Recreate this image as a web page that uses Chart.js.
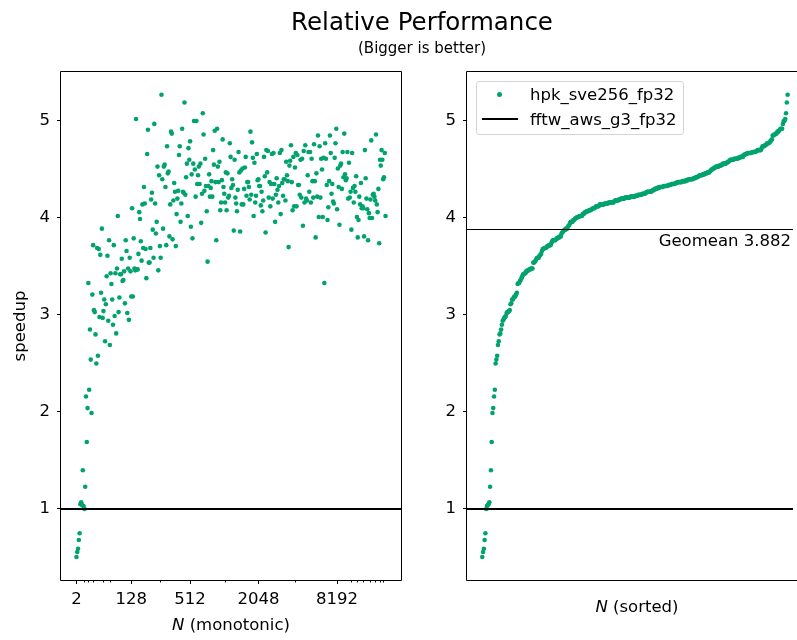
<!DOCTYPE html>
<html><head><meta charset="utf-8">
<script src="https://cdn.jsdelivr.net/npm/chart.js@4.4.1/dist/chart.umd.min.js"></script>
<style>
html,body{margin:0;padding:0;background:#fff;}
#wrap{position:relative;width:797px;height:640px;overflow:hidden;font-family:"DejaVu Sans",sans-serif;color:#000;background:#fff;}
canvas{position:absolute;top:0;}
.t{position:absolute;white-space:nowrap;line-height:1.164;}
</style></head><body>
<div id="wrap">
<canvas id="c1" width="420" height="640" style="left:0"></canvas>
<canvas id="c2" width="377" height="640" style="left:420px"></canvas>
<div class="t" style="left:0;width:844px;text-align:center;top:8px;font-size:24.5px">Relative Performance</div>
<div class="t" style="left:0;width:844px;text-align:center;top:40px;font-size:15px">(Bigger is better)</div>
<div class="t" style="left:61px;width:340px;text-align:center;top:615px;font-size:16.5px"><i>N</i> (monotonic)</div>
<div class="t" style="left:467px;width:340px;text-align:center;top:597px;font-size:16.5px"><i>N</i> (sorted)</div>
<div id="legend" style="position:absolute;left:476px;top:81px;width:206px;height:52px;border:1px solid #d5d5d5;border-radius:3px;background:rgba(255,255,255,0.8)"></div>
<div class="t" id="geo" style="right:6px;top:231px;font-size:16.5px"></div>
</div>
<script>
const seriesNames = ['hpk_sve256_fp32', 'fftw_aws_g3_fp32'];
const speedup = [
0.505,0.556,0.59,0.68,0.75,1.05,1.07,1.04,1.40,1.03,
1.00,1.23,2.16,1.69,2.04,3.33,2.23,2.85,2.54,1.99,
3.21,3.72,3.05,3.03,2.80,2.50,3.69,2.58,3.68,2.98,
3.62,3.23,3.89,2.97,3.04,3.16,2.73,3.11,3.40,3.61,
2.94,3.77,2.69,3.43,3.32,3.16,2.90,3.72,2.99,3.43,
2.81,3.48,4.02,3.03,3.18,3.42,3.42,3.58,3.35,3.36,
3.45,3.12,3.77,3.66,3.02,3.48,2.95,3.59,3.45,3.19,
4.10,3.19,3.79,3.48,3.46,5.02,3.47,
3.47,3.63,4.06,3.99,3.76,3.56,4.14,3.69,4.32,4.15,
3.68,3.38,4.66,4.91,3.54,3.54,3.69,4.19,4.26,3.88,
3.59,4.97,4.15,3.84,3.96,4.53,3.46,4.44,3.71,3.59,
5.27,4.40,3.89,4.53,4.55,4.32,3.72,4.74,4.46,4.48,
3.81,4.14,4.89,4.87,3.78,4.18,4.36,4.27,3.71,4.04,
4.20,4.28,4.65,4.74,3.96,4.15,4.92,4.27,4.26,5.19,
4.24,4.42,4.56,4.02,4.72,4.60,4.79,3.91,4.45,3.79,
4.56,5.00,4.50,4.22,5.00,4.35,4.44,4.53,4.35,4.56,
3.95,4.25,5.08,4.86,
4.28,4.61,4.33,4.07,3.55,4.33,4.45,4.22,4.31,4.38,
4.22,4.70,4.55,4.90,4.37,3.77,4.92,4.53,4.37,4.58,
4.08,4.16,4.39,4.81,4.32,4.25,4.16,4.47,4.08,4.46,
4.21,4.23,4.77,4.63,4.31,4.40,4.34,3.87,4.60,4.21,
4.15,4.07,4.29,4.68,4.47,3.86,4.49,4.14,4.51,4.14,
4.30,4.52,4.63,4.23,4.37,4.37,4.32,4.19,4.89,4.24,
4.78,4.62,4.02,4.57,4.16,4.23,4.66,4.39,4.40,4.33,
4.33,4.13,4.27,4.07,4.18,4.63,
4.43,3.85,4.70,4.47,4.69,4.21,4.37,4.12,4.35,4.66,
4.20,4.67,4.35,3.96,4.24,4.41,4.29,4.16,4.33,4.67,
4.04,4.70,4.36,4.23,4.40,4.40,4.18,4.58,4.44,4.38,
3.70,4.54,4.59,4.75,4.37,4.08,4.63,4.12,4.52,4.67,
4.12,4.65,4.34,4.34,4.24,4.60,4.21,4.61,3.92,4.69,
4.16,4.75,4.20,4.18,4.44,4.68,4.27,4.68,4.16,4.61,
4.38,4.21,4.76,4.38,3.80,4.46,4.22,4.85,4.01,4.74,
4.21,4.61,4.50,4.01,4.62,3.33,4.77,
4.61,4.34,3.98,4.11,4.38,4.85,4.67,4.25,4.35,4.17,
4.15,4.62,4.77,4.92,4.09,4.51,4.32,3.93,4.54,4.56,
4.30,4.68,4.42,4.87,4.45,4.39,4.41,4.68,4.20,4.57,
4.21,4.27,3.88,4.67,4.31,4.16,4.33,4.27,4.43,4.01,
3.80,3.98,4.22,4.14,4.36,4.10,4.12,4.10,3.81,4.70,
4.41,4.20,4.09,3.77,4.05,4.00,4.19,4.80,4.00,4.24,
4.25,4.22,4.18,4.86,4.14,4.06,4.30,3.74,4.60,4.54,
4.70,4.60,4.40,4.42,4.67,4.02
];
const xTickIdx = [0, 69, 143, 229, 328];
const xTickLabels = ['2', '128', '512', '2048', '8192'];
const xMinorIdx = [9, 15, 21, 34, 42, 105, 187, 275, 345, 353, 361, 369, 376, 382, 386];
const yTicks = [1, 2, 3, 4, 5];
const baseline = 1;
const geomean = 3.882;
const yMin = 0.268, yMax = 5.505;

const FONT = '"DejaVu Sans", sans-serif';
const GREEN = '#00a36c';
const n = speedup.length;
const xLo = -0.05 * (n - 1), xHi = 1.05 * (n - 1);

const framePlugin = {
  id: 'frame',
  afterDatasetsDraw(chart, args, opts) {
    const {ctx, chartArea: a, scales} = chart;
    ctx.save();
    ctx.strokeStyle = '#000';
    if (opts.geo) {
      const yg = Math.round(scales.y.getPixelForValue(geomean)) + 0.5;
      ctx.lineWidth = 1;
      ctx.beginPath(); ctx.moveTo(a.left, yg); ctx.lineTo(a.right, yg); ctx.stroke();
    }
    const yb = Math.round(scales.y.getPixelForValue(baseline));
    ctx.lineWidth = 2;
    ctx.beginPath(); ctx.moveTo(a.left, yb); ctx.lineTo(a.right, yb); ctx.stroke();
    ctx.lineWidth = 1;
    ctx.beginPath();
    ctx.moveTo(a.right + (opts.right ? 0.5 : 5), a.top - 0.5);
    ctx.lineTo(a.left - 0.5, a.top - 0.5);
    ctx.lineTo(a.left - 0.5, a.bottom + 0.5);
    ctx.lineTo(a.right + (opts.right ? 0.5 : 5), a.bottom + 0.5);
    if (opts.right) ctx.closePath();
    ctx.stroke();
    if (opts.minor) {
      ctx.beginPath();
      for (const i of xMinorIdx) {
        const px = Math.round(scales.x.getPixelForValue(i)) + 0.5;
        ctx.moveTo(px, a.bottom); ctx.lineTo(px, a.bottom + 2.5);
      }
      ctx.stroke();
    }
    ctx.restore();
  }
};

const tickFont = {family: FONT, size: 16.5};
const gridOpts = {display: true, drawOnChartArea: false, drawTicks: true, tickLength: 4, color: '#000', lineWidth: 1};

function yAxis(width, withTitle) {
  return {
    type: 'linear', min: yMin, max: yMax,
    afterBuildTicks: s => { s.ticks = yTicks.map(v => ({value: v})); },
    afterFit: s => { s.width = width; },
    ticks: {padding: 7, font: tickFont, color: '#000', callback: v => String(v)},
    grid: gridOpts,
    border: {display: false},
    title: {display: withTitle, text: 'speedup', font: tickFont, color: '#000', padding: {top: 11, bottom: 0}}
  };
}

new Chart(document.getElementById('c1'), {
  type: 'scatter',
  data: {datasets: [{label: seriesNames[0], data: speedup.map((v, i) => ({x: i, y: v})),
    backgroundColor: GREEN, borderWidth: 0, pointRadius: 2.3}]},
  options: {
    responsive: false, animation: false, devicePixelRatio: 1, events: [],
    layout: {padding: {left: 0, top: 72, right: 19, bottom: 0}},
    plugins: {legend: {display: false}, tooltip: {enabled: false}, frame: {geo: false, right: true, minor: true}},
    scales: {
      x: {
        type: 'linear', min: xLo, max: xHi,
        afterBuildTicks: s => { s.ticks = xTickIdx.map(v => ({value: v})); },
        afterFit: s => { s.height = 60; },
        ticks: {autoSkip: false, maxRotation: 0, padding: 6, font: tickFont, color: '#000',
          callback: (v, i) => xTickLabels[i]},
        grid: gridOpts,
        border: {display: false}
      },
      y: yAxis(61, true)
    }
  },
  plugins: [framePlugin]
});

const sorted = [...speedup].sort((a, b) => a - b);
const rightMax = xLo + (xHi - xLo) * (797 - 467) / 340;
new Chart(document.getElementById('c2'), {
  type: 'scatter',
  data: {datasets: [{label: seriesNames[0], data: sorted.map((v, i) => ({x: i, y: v})),
    backgroundColor: GREEN, borderWidth: 0, pointRadius: 2.3}]},
  options: {
    responsive: false, animation: false, devicePixelRatio: 1, events: [],
    layout: {padding: {left: 0, top: 72, right: 0, bottom: 60}},
    plugins: {legend: {display: false}, tooltip: {enabled: false}, frame: {geo: true, right: false, minor: false}},
    scales: {
      x: {type: 'linear', display: false, min: xLo, max: rightMax},
      y: yAxis(47, false)
    }
  },
  plugins: [framePlugin]
});

// legend
const lg = document.getElementById('wrap');
function addEl(style, html) {
  const d = document.createElement('div');
  d.setAttribute('style', style);
  if (html !== undefined) { d.className = 't'; d.textContent = html; }
  lg.appendChild(d);
}
addEl('position:absolute;left:497px;top:91.5px;width:5px;height:5px;border-radius:50%;background:' + GREEN);
addEl('position:absolute;left:482px;top:118px;width:36px;height:2px;background:#000');
addEl('left:530px;top:84.5px;font-size:16.5px', seriesNames[0]);
addEl('left:530px;top:109.5px;font-size:16.5px', seriesNames[1]);
document.getElementById('geo').textContent = 'Geomean ' + geomean.toFixed(3);
</script>
</body></html>
